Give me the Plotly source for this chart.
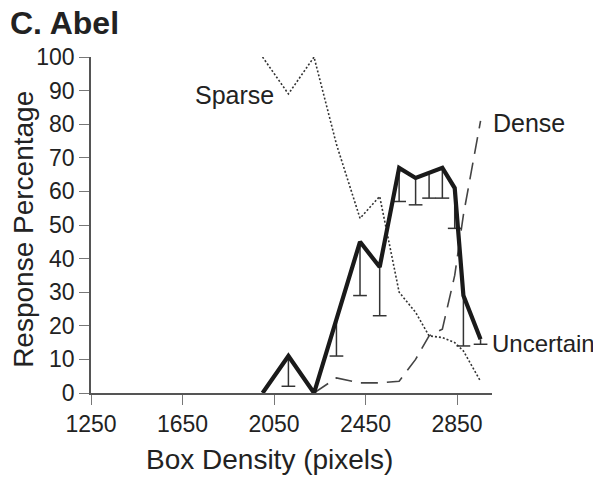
import plotly.graph_objects as go

# Data
box_density = [2000, 2113, 2225, 2323, 2426, 2512, 2597, 2669, 2728, 2786, 2840, 2878, 2953]
uncertain = [0, 11, 0, 22, 45, 37.5, 67, 64, 65.5, 67, 61, 29, 16]
uncertain_lower = [None, 2, None, 11, 29, 23, 57, 56, 58, 58, 49, 14, 14.5]
sparse = [100, 89, 100, 74, 52, 58.5, 30, 24, 17, 16.5, 15, 12.5, 3.5]
dense = [None, None, 0, 4.5, 3, 3, 3.5, 10, 17, 19, 35, 53, 81]
x_ticks = [1250, 1650, 2050, 2450, 2850]
y_ticks = list(range(0, 101, 10))

FONT = "Liberation Sans, Arial, sans-serif"
TXT = "#222222"

# the page body has an 8px margin, so the figure is drawn 8px smaller
W, H, OFF = 593, 469, 8

fig = go.Figure()

# Sparse (dotted)
fig.add_trace(go.Scatter(x=box_density, y=sparse, mode="lines",
                         line=dict(color="#333333", width=1.6, dash="2px,2px"),
                         cliponaxis=False, showlegend=False))
# Dense (long dashes)
fig.add_trace(go.Scatter(x=box_density, y=dense, mode="lines",
                         line=dict(color="#444444", width=1.6, dash="17px,9px"),
                         connectgaps=False, cliponaxis=False, showlegend=False))

# Error bars for Uncertain (lower side only)
err_x, err_y, err_up = [], [], []
for xv, yv, lo in zip(box_density, uncertain, uncertain_lower):
    if lo is not None:
        err_x.append(xv)
        err_y.append(lo)
        err_up.append(yv - lo)
fig.add_trace(go.Scatter(x=err_x, y=err_y, mode="markers",
                         marker=dict(size=1, color="rgba(0,0,0,0)"),
                         error_y=dict(type="data", symmetric=False, array=err_up,
                                      arrayminus=[0] * len(err_up), width=0,
                                      thickness=1.5, color="#333333"),
                         error_x=dict(type="constant", value=30, width=0,
                                      thickness=1.5, color="#333333"),
                         cliponaxis=False, showlegend=False))

# Uncertain (thick solid)
fig.add_trace(go.Scatter(x=box_density, y=uncertain, mode="lines",
                         line=dict(color="#1a1a1a", width=4.2),
                         cliponaxis=False, showlegend=False))

annotations = [
    dict(x=1696, y=88.7, xref="x", yref="y", text="Sparse", showarrow=False,
         xanchor="left", yanchor="middle", font=dict(size=25, color=TXT, family=FONT)),
    dict(x=3000, y=80.4, xref="x", yref="y", text="Dense", showarrow=False,
         xanchor="left", yanchor="middle", font=dict(size=25, color=TXT, family=FONT)),
    dict(x=2996, y=14.6, xref="x", yref="y", text="Uncertain", showarrow=False,
         xanchor="left", yanchor="middle", font=dict(size=24, color=TXT, family=FONT)),
    dict(x=0.444, y=-0.199, xref="paper", yref="paper", text="Box Density (pixels)",
         showarrow=False, xanchor="center", yanchor="middle",
         font=dict(size=28, color=TXT, family=FONT)),
    dict(x=-0.17, y=0.488, xref="paper", yref="paper", text="Response Percentage",
         showarrow=False, xanchor="center", yanchor="middle", textangle=-90,
         font=dict(size=28, color=TXT, family=FONT)),
]

fig.update_layout(
    width=W, height=H,
    margin=dict(l=91 - OFF, r=109, t=57 - OFF, b=84),
    paper_bgcolor="white", plot_bgcolor="white",
    font=dict(family=FONT, color=TXT, size=23),
    title=dict(text="<b>C. Abel</b>", x=(10 - OFF) / W, xref="container", xanchor="left",
               y=1 - (23 - OFF) / H, yref="container", yanchor="middle",
               font=dict(size=32, color=TXT, family=FONT)),
    annotations=annotations,
    showlegend=False,
)

fig.update_xaxes(range=[1250, 3003], tickmode="array", tickvals=x_ticks,
                 ticktext=[str(v) for v in x_ticks],
                 showgrid=False, zeroline=False, showline=True,
                 linecolor="#555555", linewidth=1.5,
                 ticks="outside", ticklen=10, tickwidth=1.2, tickcolor="#777777",
                 tickfont=dict(size=23, color=TXT, family=FONT))
fig.update_yaxes(range=[0, 100], tickmode="array", tickvals=y_ticks,
                 ticktext=[str(v) for v in y_ticks],
                 showgrid=False, zeroline=False, showline=True,
                 linecolor="#555555", linewidth=1.5,
                 ticks="outside", ticklen=10, tickwidth=1.2, tickcolor="#777777",
                 tickfont=dict(size=23, color=TXT, family=FONT))

fig.write_html("out.html")
